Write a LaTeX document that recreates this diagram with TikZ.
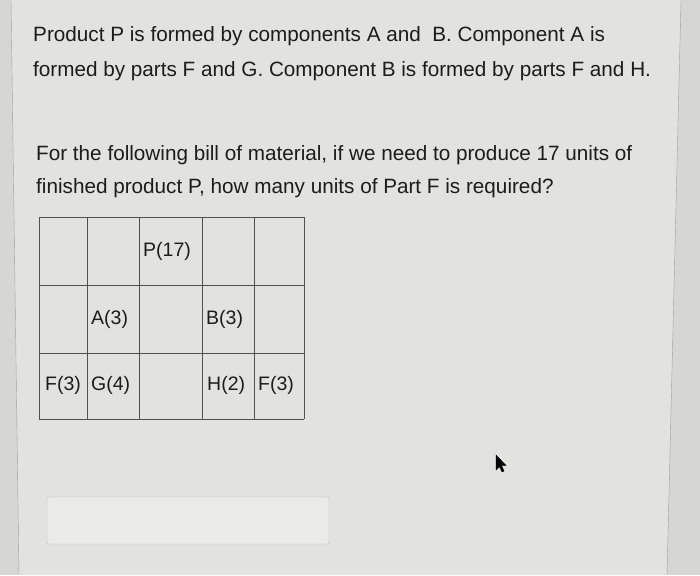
\documentclass[tikz,border=0pt]{standalone}
\usepackage{fontspec}
\setmainfont{Liberation Sans}
\definecolor{screen}{RGB}{226, 226, 222}
\definecolor{bezel}{RGB}{214, 214, 210}
\definecolor{ink}{RGB}{28, 28, 28}
\definecolor{gridline}{RGB}{80, 80, 80}
\definecolor{frameline}{RGB}{160, 160, 158}
\definecolor{boxline}{RGB}{180, 180, 178}
\tikzset{
  question/.style={anchor=base west, inner sep=0pt, text=ink, font=\fontsize{20.7}{24}\selectfont},
  cell/.style={anchor=west, inner sep=0pt, text=ink, font=\fontsize{19.5}{22}\selectfont},
}
\begin{document}
\begin{tikzpicture}[x=1pt, y=-1pt]
            \useasboundingbox (0,0) rectangle (700,575);
            \fill[bezel] (0,0) rectangle (700,575);
            \fill[screen] (11,0) -- (681,0) -- (667,575) -- (19,575) -- cycle;
            \draw[frameline] (11,0) -- (19,575);
            \draw[frameline] (681,0) -- (667,575);
            % question text
            \node[question] (line1) at (33,42) {Product P is formed by components A and\ \ B. Component A is};
            \node[question] (line2) at (33,77) {formed by parts F and G. Component B is formed by parts F and H.};
            \node[question] (line3) at (36,160) {For the following bill of material, if we need to produce 17 units of};
            \node[question] (line4) at (36,193) {finished product P, how many units of Part F is required?};
            % bill of material grid
            \foreach \y in {217, 285, 353, 419}
                \draw[gridline] (39,\y) -- (304,\y);
            \foreach \x in {39, 87, 139, 202, 254, 304}
                \draw[gridline] (\x,217) -- (\x,419);
            \node[cell] (p)  at (143,251) {P(17)};
            \node[cell] (a)  at (91,319)  {A(3)};
            \node[cell] (b)  at (206,319) {B(3)};
            \node[cell] (fa) at (45,385)  {F(3)};
            \node[cell] (g)  at (91,385)  {G(4)};
            \node[cell] (h)  at (207,385) {H(2)};
            \node[cell] (fb) at (258,385) {F(3)};
            % answer field and pointer
            \filldraw[boxline, fill=screen!70!white, rounded corners=2pt] (47,497) rectangle (329,544);
            \filldraw[black] (496,455) -- (496,470) -- (499.5,466.5) -- (502,472) -- (504,471) -- (501.5,465.5) -- (506,465.5) -- cycle;
        \end{tikzpicture}
\end{document}
